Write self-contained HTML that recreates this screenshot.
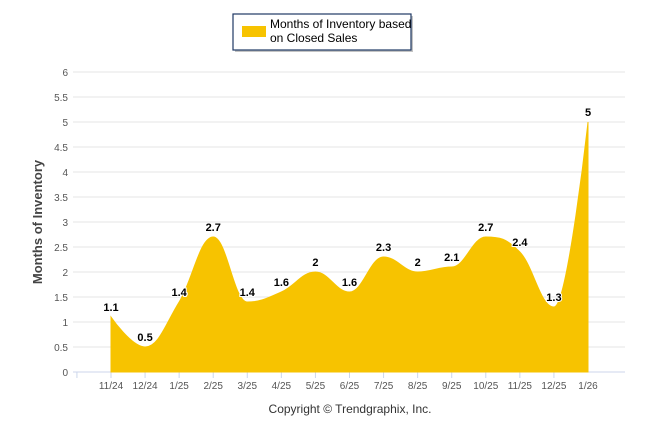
<!DOCTYPE html>
<html><head><meta charset="utf-8"><style>
body{margin:0;background:#fff;font-family:"Liberation Sans",Arial,sans-serif}
svg text{font-family:"Liberation Sans",Arial,sans-serif}
</style></head><body>
<svg id="c" width="646" height="434" xmlns="http://www.w3.org/2000/svg">
<g>
<rect x="235" y="16" width="178" height="36" fill="#8a8a8a" opacity="0.5"/>
<rect x="233" y="14" width="178" height="36" fill="#fff" stroke="#1f3864" stroke-width="1.2"/>
<rect x="242" y="26" width="24" height="11" fill="#f7c300"/>
<text x="270" y="28" font-size="12" fill="#000">Months of Inventory based</text>
<text x="270" y="42" font-size="12" fill="#000">on Closed Sales</text>
</g>
<text transform="translate(42,222) rotate(-90)" text-anchor="middle" font-size="13" font-weight="bold" fill="#444">Months of Inventory</text>
<text x="350" y="413" text-anchor="middle" font-size="12" fill="#333">Copyright © Trendgraphix, Inc.</text>
<g id="grid"></g><g id="area"></g><g id="labels"></g>
</svg>
<script>
const categories=["11/24","12/24","1/25","2/25","3/25","4/25","5/25","6/25","7/25","8/25","9/25","10/25","11/25","12/25","1/26"];
const values=[1.1,0.5,1.4,2.7,1.4,1.6,2,1.6,2.3,2,2.1,2.7,2.4,1.3,5];
const yTicks=[0,0.5,1,1.5,2,2.5,3,3.5,4,4.5,5,5.5,6];
const NS="http://www.w3.org/2000/svg";
const x0=111,dx=(588-111)/14,yb=372,ys=50;
const X=i=>x0+i*dx, Y=v=>yb-v*ys;
function el(t,a,p){const e=document.createElementNS(NS,t);for(const k in a)e.setAttribute(k,a[k]);p.appendChild(e);return e;}
const g=document.getElementById('grid');
yTicks.forEach(v=>{
 const l=el('line',{x1:73,x2:625,y1:Y(v),y2:Y(v),stroke:v===0?'#ccd6eb':'#e6e6e6','stroke-width':1},g);
 
 
 const t=el('text',{x:68,y:Y(v)+4,'text-anchor':'end','font-size':10,fill:'#555'},g);
 t.textContent=v;
 
 
});
for(let i=-1;i<categories.length;i++){
 const tx=X(i)+dx/2-dx/2- (i<0?0:0);
}
categories.forEach((c,i)=>{
 const tk=el('line',{x1:X(i)-dx,x2:X(i)-dx,y1:yb,y2:yb+6,stroke:'#ccd6eb'},g);
 
 
 const t=el('text',{x:X(i),y:389,'text-anchor':'middle','font-size':10,fill:'#555'},g);
 t.textContent=c;
 
 
});
// smoothed path (Highcharts-like)
const pts=values.map((v,i)=>[X(i),Y(v)]);
let d=`M${pts[0][0]},${pts[0][1]}`;
const sm=1.5,den=sm+1;
function ctrl(i){
 const p=pts[i],a=pts[i-1],b=pts[i+1];
 if(!a||!b)return[p,p];
 let lx=(sm*p[0]+a[0])/den,ly=(sm*p[1]+a[1])/den,rx=(sm*p[0]+b[0])/den,ry=(sm*p[1]+b[1])/den;
 let corr=0;if(rx!==lx){corr=((ry-ly)*(rx-p[0]))/(rx-lx)+p[1]-ry;}
 ly+=corr;ry+=corr;
 if(ly>Math.max(a[1],p[1])||ly<Math.min(a[1],p[1])||ry>Math.max(b[1],p[1])||ry<Math.min(b[1],p[1])){ly=p[1];ry=p[1];}
 return[[lx,ly],[rx,ry]];
}
for(let i=1;i<pts.length;i++){
 const c1=ctrl(i-1)[1],c2=ctrl(i)[0];
 d+=` C${c1[0]},${c1[1]} ${c2[0]},${c2[1]} ${pts[i][0]},${pts[i][1]}`;
}
d+=` L${pts[pts.length-1][0]},${yb} L${pts[0][0]},${yb} Z`;
const a=el('path',{d:d,fill:'#f7c300',stroke:'#f7c300','stroke-width':1},document.getElementById('area'));


const L=document.getElementById('labels');
values.forEach((v,i)=>{
 const t=el('text',{x:X(i),y:Y(v)-6,'text-anchor':'middle','font-size':11,'font-weight':'bold',fill:'#000',stroke:'#fff','stroke-width':2,'paint-order':'stroke'},L);
 t.textContent=v;
 
 
});
</script>
</body></html>
